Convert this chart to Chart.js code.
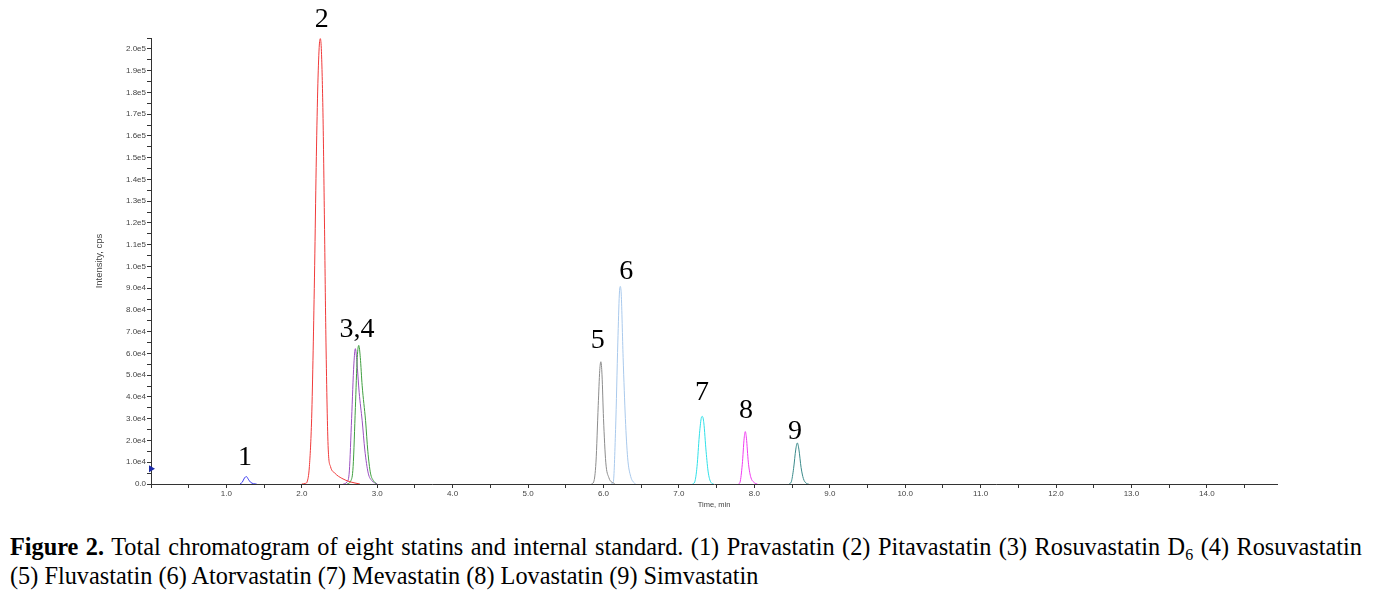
<!DOCTYPE html>
<html>
<head>
<meta charset="utf-8">
<script src="https://cdn.jsdelivr.net/npm/chart.js@4"></script>
<style>
  html, body { margin: 0; padding: 0; background: #fff; width: 1383px; height: 592px; overflow: hidden; }
  #wrap { position: relative; width: 1383px; height: 592px; }
  #c { position: absolute; left: 0; top: 0; }
  .cap { position: absolute; left: 10px; font-family: "Liberation Serif", "Times New Roman", serif; font-size: 24.3px; color: #000; white-space: nowrap; line-height: 1; }
  #cap1 { width: 1352px; text-align: justify; text-align-last: justify; white-space: normal; }
  .cap b { font-weight: bold; }
  .cap sub { font-size: 16px; vertical-align: -5px; line-height: 0; }
</style>
</head>
<body>
<div id="wrap">
  <canvas id="c" width="1383" height="515"></canvas>
  <div class="cap" id="cap1" style="top:535px;"><b>Figure 2.</b> Total chromatogram of eight statins and internal standard. (1) Pravastatin (2) Pitavastatin (3) Rosuvastatin D<sub>6</sub> (4) Rosuvastatin</div>
  <div class="cap" id="cap2" style="top:563.5px;">(5) Fluvastatin (6) Atorvastatin (7) Mevastatin (8) Lovastatin (9) Simvastatin</div>
</div>
<script>
// ---- Data (time in min, intensity in cps) ----
const peak1Time = [1.18, 1.21, 1.24, 1.265, 1.29, 1.32, 1.36, 1.40];
const peak1Int  = [0, 800, 2800, 3400, 2200, 800, 150, 0];

const peak2Time = [2.00, 2.05, 2.07, 2.10, 2.13, 2.15, 2.17, 2.19, 2.21, 2.23, 2.245, 2.26, 2.28, 2.30, 2.32, 2.35, 2.38, 2.44, 2.53, 2.64, 2.77];
const peak2Int  = [0, 300, 1000, 8000, 30000, 61000, 100000, 145000, 180000, 200000, 204000, 198000, 170000, 120000, 65000, 16000, 8000, 4900, 2600, 1000, 0];

const peak3Time = [2.55, 2.60, 2.63, 2.66, 2.69, 2.71, 2.73, 2.76, 2.80, 2.835, 2.88, 2.93, 3.00];
const peak3Int  = [0, 1000, 6000, 30000, 55000, 62000, 56000, 42000, 29000, 15600, 5000, 1500, 0];

const peak4Time = [2.60, 2.65, 2.68, 2.71, 2.735, 2.755, 2.775, 2.80, 2.845, 2.875, 2.91, 2.95, 2.99];
const peak4Int  = [0, 1500, 8000, 35000, 58000, 63500, 58000, 45000, 29000, 15000, 5000, 1500, 0];

const peak5Time = [5.84, 5.87, 5.90, 5.93, 5.95, 5.965, 5.98, 6.00, 6.03, 6.07, 6.15];
const peak5Int  = [0, 1000, 10000, 36000, 52000, 56000, 50000, 30000, 10000, 3000, 0];

const peak6Time = [6.10, 6.13, 6.16, 6.19, 6.21, 6.222, 6.235, 6.26, 6.29, 6.32, 6.36, 6.42];
const peak6Int  = [0, 1000, 25000, 65000, 87000, 90500, 87000, 58000, 30000, 12000, 3500, 0];

const peak7Time = [7.18, 7.21, 7.24, 7.27, 7.295, 7.31, 7.33, 7.36, 7.39, 7.43, 7.46];
const peak7Int  = [0, 1000, 8000, 22000, 30000, 31000, 28000, 15000, 5000, 500, 0];

const peak8Time = [7.79, 7.81, 7.84, 7.865, 7.88, 7.895, 7.92, 7.95, 8.00, 8.04];
const peak8Int  = [0, 800, 9000, 21000, 24000, 21000, 10000, 3500, 600, 0];

const peak9Time = [8.46, 8.49, 8.52, 8.55, 8.57, 8.59, 8.62, 8.65, 8.69, 8.72];
const peak9Int  = [0, 1000, 7000, 16000, 18800, 16000, 7500, 2500, 300, 0];

// Peak number labels (text and anchor in data units)
const peakLabels     = ["1", "2", "3,4", "5", "6", "7", "8", "9"];
const peakLabelTime  = [1.245, 2.265, 2.73, 5.925, 6.30, 7.305, 7.89, 8.54];
const peakLabelValue = [11900, 212500, 70500, 65500, 97100, 41700, 33400, 23800];

// Axis ticks
const xTickLabels = ["1.0","2.0","3.0","4.0","5.0","6.0","7.0","8.0","9.0","10.0","11.0","12.0","13.0","14.0"];

const seriesColors = ['#3c3cf0', '#f03a3a', '#9a4fc0', '#3f9f3f', '#8c8c8c', '#a9c9ec', '#2fe0e8', '#f03cf0', '#3a8a8a'];

function pts(t, v) { return t.map((x, i) => ({ x: x, y: v[i] })); }

const allPeaks = [
  [peak1Time, peak1Int], [peak2Time, peak2Int], [peak4Time, peak4Int], [peak3Time, peak3Int],
  [peak5Time, peak5Int], [peak6Time, peak6Int], [peak7Time, peak7Int], [peak8Time, peak8Int], [peak9Time, peak9Int]
];
const colorOrder = [0, 1, 3, 2, 4, 5, 6, 7, 8];

const datasets = allPeaks.map((p, i) => ({
  data: pts(p[0], p[1]),
  borderColor: seriesColors[colorOrder[i]],
  borderWidth: 1,
  pointRadius: 0,
  fill: false,
  cubicInterpolationMode: 'monotone'
}));

// start marker on the y axis
datasets.push({
  type: 'scatter',
  data: [{ x: 0, y: 7000 }],
  pointStyle: 'triangle',
  rotation: 90,
  pointRadius: 4,
  backgroundColor: '#1c2aa8',
  borderColor: '#1c2aa8',
  borderWidth: 0,
  clip: false
});

const labelPlugin = {
  id: 'peakLabels',
  afterDatasetsDraw(chart) {
    const ctx = chart.ctx, xs = chart.scales.x, ys = chart.scales.y;
    ctx.save();
    ctx.fillStyle = '#000';
    ctx.font = '28px "Liberation Serif", "Times New Roman", serif';
    ctx.textAlign = 'center';
    ctx.textBaseline = 'middle';
    peakLabels.forEach((t, i) => {
      ctx.fillText(t, xs.getPixelForValue(peakLabelTime[i]), ys.getPixelForValue(peakLabelValue[i]));
    });
    ctx.restore();
  }
};

const tickFont = { family: '"Liberation Sans", Arial, sans-serif', size: 8 };

new Chart(document.getElementById('c'), {
  type: 'line',
  data: { datasets: datasets },
  plugins: [labelPlugin],
  options: {
    responsive: false,
    animation: false,
    devicePixelRatio: 1,
    layout: { padding: { left: 94, right: 106, top: 38, bottom: 0 } },
    plugins: { legend: { display: false }, tooltip: { enabled: false } },
    scales: {
      x: {
        type: 'linear',
        min: 0,
        max: 14.93,
        afterFit(s) { s.height = 31; },
        border: { display: true, color: '#333', width: 1 },
        grid: { display: true, drawOnChartArea: false, drawTicks: true, tickLength: 4, color: '#333' },
        ticks: {
          stepSize: 0.5,
          includeBounds: false,
          autoSkip: false,
          maxRotation: 0,
          padding: 1,
          color: '#444',
          font: tickFont,
          callback(v) {
            const r = Math.round(v);
            const i = r - 1;
            return (Math.abs(v - r) < 1e-6 && i >= 0 && i < xTickLabels.length) ? xTickLabels[i] : '';
          }
        },
        title: { display: true, text: 'Time, min', color: '#444', font: { family: '"Liberation Sans", Arial, sans-serif', size: 7.5 }, padding: { top: 0, bottom: 6 } }
      },
      y: {
        type: 'linear',
        min: 0,
        max: 204300,
        afterFit(s) { s.width = 57; },
        border: { display: true, color: '#333', width: 1 },
        grid: { display: true, drawOnChartArea: false, drawTicks: true, tickLength: 4, color: '#333' },
        ticks: {
          stepSize: 5000,
          includeBounds: false,
          autoSkip: false,
          padding: 1,
          color: '#444',
          font: tickFont,
          callback(v) {
            const n = Math.round(v / 5000);
            if (n % 2 !== 0) return '';
            if (n === 0) return '0.0';
            return (n * 5000).toExponential(1).replace('e+', 'e');
          }
        },
        title: { display: true, text: 'Intensity, cps', color: '#444', font: { family: '"Liberation Sans", Arial, sans-serif', size: 9.5 }, padding: 0 }
      }
    }
  }
});
</script>
</body>
</html>
